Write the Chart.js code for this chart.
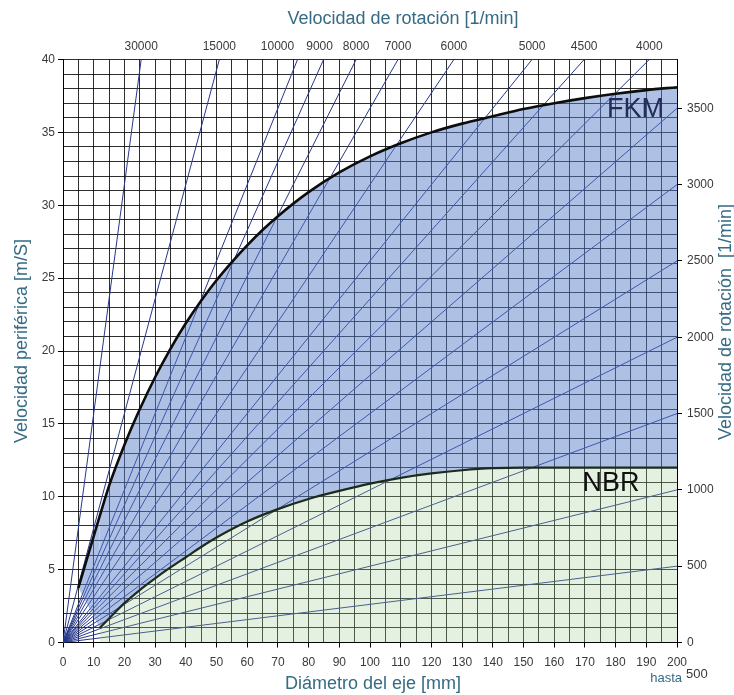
<!DOCTYPE html>
<html>
<head>
<meta charset="utf-8">
<script src="https://cdn.jsdelivr.net/npm/chart.js@4.4.1/dist/chart.umd.min.js"></script>
<style>
  html, body { margin: 0; padding: 0; background: #ffffff; }
  #wrap { width: 734px; height: 695px; position: relative; }
</style>
</head>
<body>
<div id="wrap"><canvas id="chart"></canvas></div>
<script>
// Shaft diameter [mm] and admissible peripheral speed [m/s] for FKM
const fkmDiameter = [5, 10, 12, 15, 20, 25, 30, 35, 40, 45, 50, 55, 60, 65, 70, 80, 90, 100, 110, 120, 130, 140, 150, 160, 170, 180, 190, 200];
const fkmSpeed    = [3.75, 7.3, 8.7, 10.75, 13.55, 16.0, 18.2, 20.15, 21.9, 23.45, 24.85, 26.1, 27.25, 28.3, 29.25, 30.9, 32.25, 33.35, 34.25, 35.0, 35.6, 36.1, 36.6, 37.0, 37.35, 37.65, 37.9, 38.1];

// Shaft diameter [mm] and admissible peripheral speed [m/s] for NBR
const nbrDiameter = [12, 15, 20, 25, 30, 35, 40, 45, 50, 60, 70, 80, 90, 100, 110, 120, 130, 140, 150, 200];
const nbrSpeed    = [1.0, 1.65, 2.7, 3.6, 4.4, 5.15, 5.85, 6.55, 7.2, 8.3, 9.15, 9.85, 10.4, 10.9, 11.3, 11.6, 11.82, 11.96, 12.0, 12.0];

// Rotation speeds [1/min]: lines leaving through the top edge and through the right edge
const rpmTop   = [30000, 15000, 10000, 9000, 8000, 7000, 6000, 5000, 4500, 4000];
const rpmRight = [3500, 3000, 2500, 2000, 1500, 1000, 500];

// Axis ranges
const dMax = 200;   // mm
const vMax = 40;    // m/s

// Peripheral speed of a shaft of diameter d [mm] turning at n [1/min]
const periph = (d, n) => Math.PI * d * n / 60000;
// Diameter at which the n-line reaches speed v
const diamAt = (v, n) => v * 60000 / (Math.PI * n);

const TITLE_COLOR = '#356b85';
const TICK_COLOR = '#3a3a3a';
const GRID_COLOR = 'rgba(0,0,0,0.82)';
const TICK_FONT = { family: '"Liberation Sans", Arial, sans-serif', size: 12 };
// Horizontal nudge (px) of crowded top labels so they do not collide
const TOP_LABEL_NUDGE = { 10000: -20, 9000: -4 };

const pts = (xs, ys) => xs.map((x, i) => ({ x, y: ys[i] }));

const allRpm = rpmTop.concat(rpmRight);
const rpmDatasets = allRpm.map(n => ({
  label: n + ' 1/min',
  data: [{ x: 0, y: 0 }, { x: dMax, y: periph(dMax, n) }],
  borderColor: '#26378c',
  borderWidth: 1,
  pointRadius: 0,
  fill: false,
  order: 10
}));

const BLUE_FILL = 'rgba(85,125,200,0.48)';

const datasets = [
  {
    label: 'FKM',
    data: pts(fkmDiameter, fkmSpeed),
    borderColor: '#0d0d0d',
    borderWidth: 2.6,
    backgroundColor: BLUE_FILL,
    fill: { target: 1 },
    cubicInterpolationMode: 'monotone',
    pointRadius: 0,
    order: 3
  },
  {
    label: 'NBR',
    data: pts(nbrDiameter, nbrSpeed),
    borderColor: '#1c2b1c',
    borderWidth: 2.2,
    backgroundColor: 'rgba(160,205,145,0.28)',
    fill: 'origin',
    cubicInterpolationMode: 'monotone',
    pointRadius: 0,
    order: 2
  },
  {
    label: 'FKM start',
    data: [{ x: fkmDiameter[0], y: fkmSpeed[0] }, { x: nbrDiameter[0], y: nbrSpeed[0] }],
    borderWidth: 0,
    borderColor: 'rgba(0,0,0,0)',
    backgroundColor: BLUE_FILL,
    fill: { target: 0 },
    pointRadius: 0,
    order: 5
  }
].concat(rpmDatasets);

// Texts placed around the plot: axis titles, rotation labels on top, material names
const labelsPlugin = {
  id: 'labels',
  afterDraw(chart) {
    const { ctx, chartArea: a, scales } = chart;
    const x = scales.x, y = scales.y;
    ctx.save();
    ctx.textAlign = 'center';
    ctx.textBaseline = 'middle';

    // rotation speed where each line leaves the top edge
    ctx.fillStyle = TICK_COLOR;
    ctx.font = '12px "Liberation Sans", Arial, sans-serif';
    rpmTop.forEach(n => {
      const px = x.getPixelForValue(diamAt(vMax, n)) + (TOP_LABEL_NUDGE[n] || 0);
      ctx.fillText(String(n), px, a.top - 13);
    });

    ctx.fillStyle = TITLE_COLOR;
    ctx.font = '18px "Liberation Sans", Arial, sans-serif';
    ctx.fillText('Velocidad de rotación [1/min]', 403, 19);
    ctx.fillText('Diámetro del eje [mm]', (a.left + a.right) / 2 + 3, 684);

    ctx.save();
    ctx.translate(22, 341);
    ctx.rotate(-Math.PI / 2);
    ctx.fillText('Velocidad periférica [m/S]', 0, 0);
    ctx.restore();

    ctx.save();
    ctx.translate(726, 322);
    ctx.rotate(-Math.PI / 2);
    ctx.fillText('Velocidad de rotación  [1/min]', 0, 0);
    ctx.restore();

    ctx.font = '13px "Liberation Sans", Arial, sans-serif';
    ctx.textAlign = 'right';
    ctx.fillText('hasta', a.right + 5, 678);
    ctx.textAlign = 'left';
    ctx.fillStyle = TICK_COLOR;
    ctx.font = '13px "Liberation Sans", Arial, sans-serif';
    ctx.fillText('500', a.right + 9, 674);

    ctx.textAlign = 'center';
    ctx.font = '27px "Liberation Sans", Arial, sans-serif';
    ctx.fillStyle = '#222c58';
    ctx.fillText('FKM', x.getPixelForValue(186.5), y.getPixelForValue(36.6));
    ctx.fillStyle = '#111111';
    ctx.fillText('NBR', x.getPixelForValue(178.5), y.getPixelForValue(10.9));
    ctx.restore();
  }
};

new Chart(document.getElementById('chart'), {
  type: 'line',
  data: { datasets },
  plugins: [labelsPlugin],
  options: {
    responsive: true,
    maintainAspectRatio: false,
    animation: false,
    events: [],
    layout: { padding: 0 },
    plugins: { legend: { display: false }, tooltip: { enabled: false } },
    scales: {
      x: {
        type: 'linear',
        position: 'bottom',
        min: 0, max: dMax,
        afterFit(s) { s.height = 52.5; },
        ticks: {
          stepSize: 5, autoSkip: false, maxRotation: 0, padding: 8,
          color: TICK_COLOR, font: TICK_FONT,
          callback: v => (v % 10 === 0 ? String(v) : '')
        },
        grid: {
          color: GRID_COLOR, lineWidth: 1, tickLength: 5,
          tickColor: c => (c.tick && c.tick.value % 10 === 0 ? '#000' : 'rgba(0,0,0,0)')
        },
        border: { color: '#000', width: 1 }
      },
      xTop: {
        type: 'linear',
        position: 'top',
        min: 0, max: dMax,
        afterFit(s) { s.height = 59.5; },
        ticks: { display: false },
        grid: { display: false, drawTicks: false },
        border: { display: false }
      },
      y: {
        type: 'linear',
        position: 'left',
        min: 0, max: vMax,
        afterFit(s) { s.width = 63; },
        ticks: {
          stepSize: 1, autoSkip: false, padding: 3,
          color: TICK_COLOR, font: TICK_FONT,
          callback: v => (v % 5 === 0 ? String(v) : '')
        },
        grid: {
          color: GRID_COLOR, lineWidth: 1, tickLength: 5,
          tickColor: c => (c.tick && c.tick.value % 5 === 0 ? '#000' : 'rgba(0,0,0,0)')
        },
        border: { color: '#000', width: 1 }
      },
      y2: {
        type: 'linear',
        position: 'right',
        min: 0, max: vMax * 60000 / (Math.PI * dMax),
        afterFit(s) { s.width = 57; },
        afterBuildTicks(s) { s.ticks = [0].concat(rpmRight.slice().reverse()).map(v => ({ value: v })); },
        ticks: {
          autoSkip: false, padding: 5,
          color: TICK_COLOR, font: TICK_FONT,
          callback: v => String(v)
        },
        grid: { drawOnChartArea: false, tickLength: 5, tickColor: '#000' },
        border: { color: '#000', width: 1 }
      }
    }
  }
});
</script>
</body>
</html>
